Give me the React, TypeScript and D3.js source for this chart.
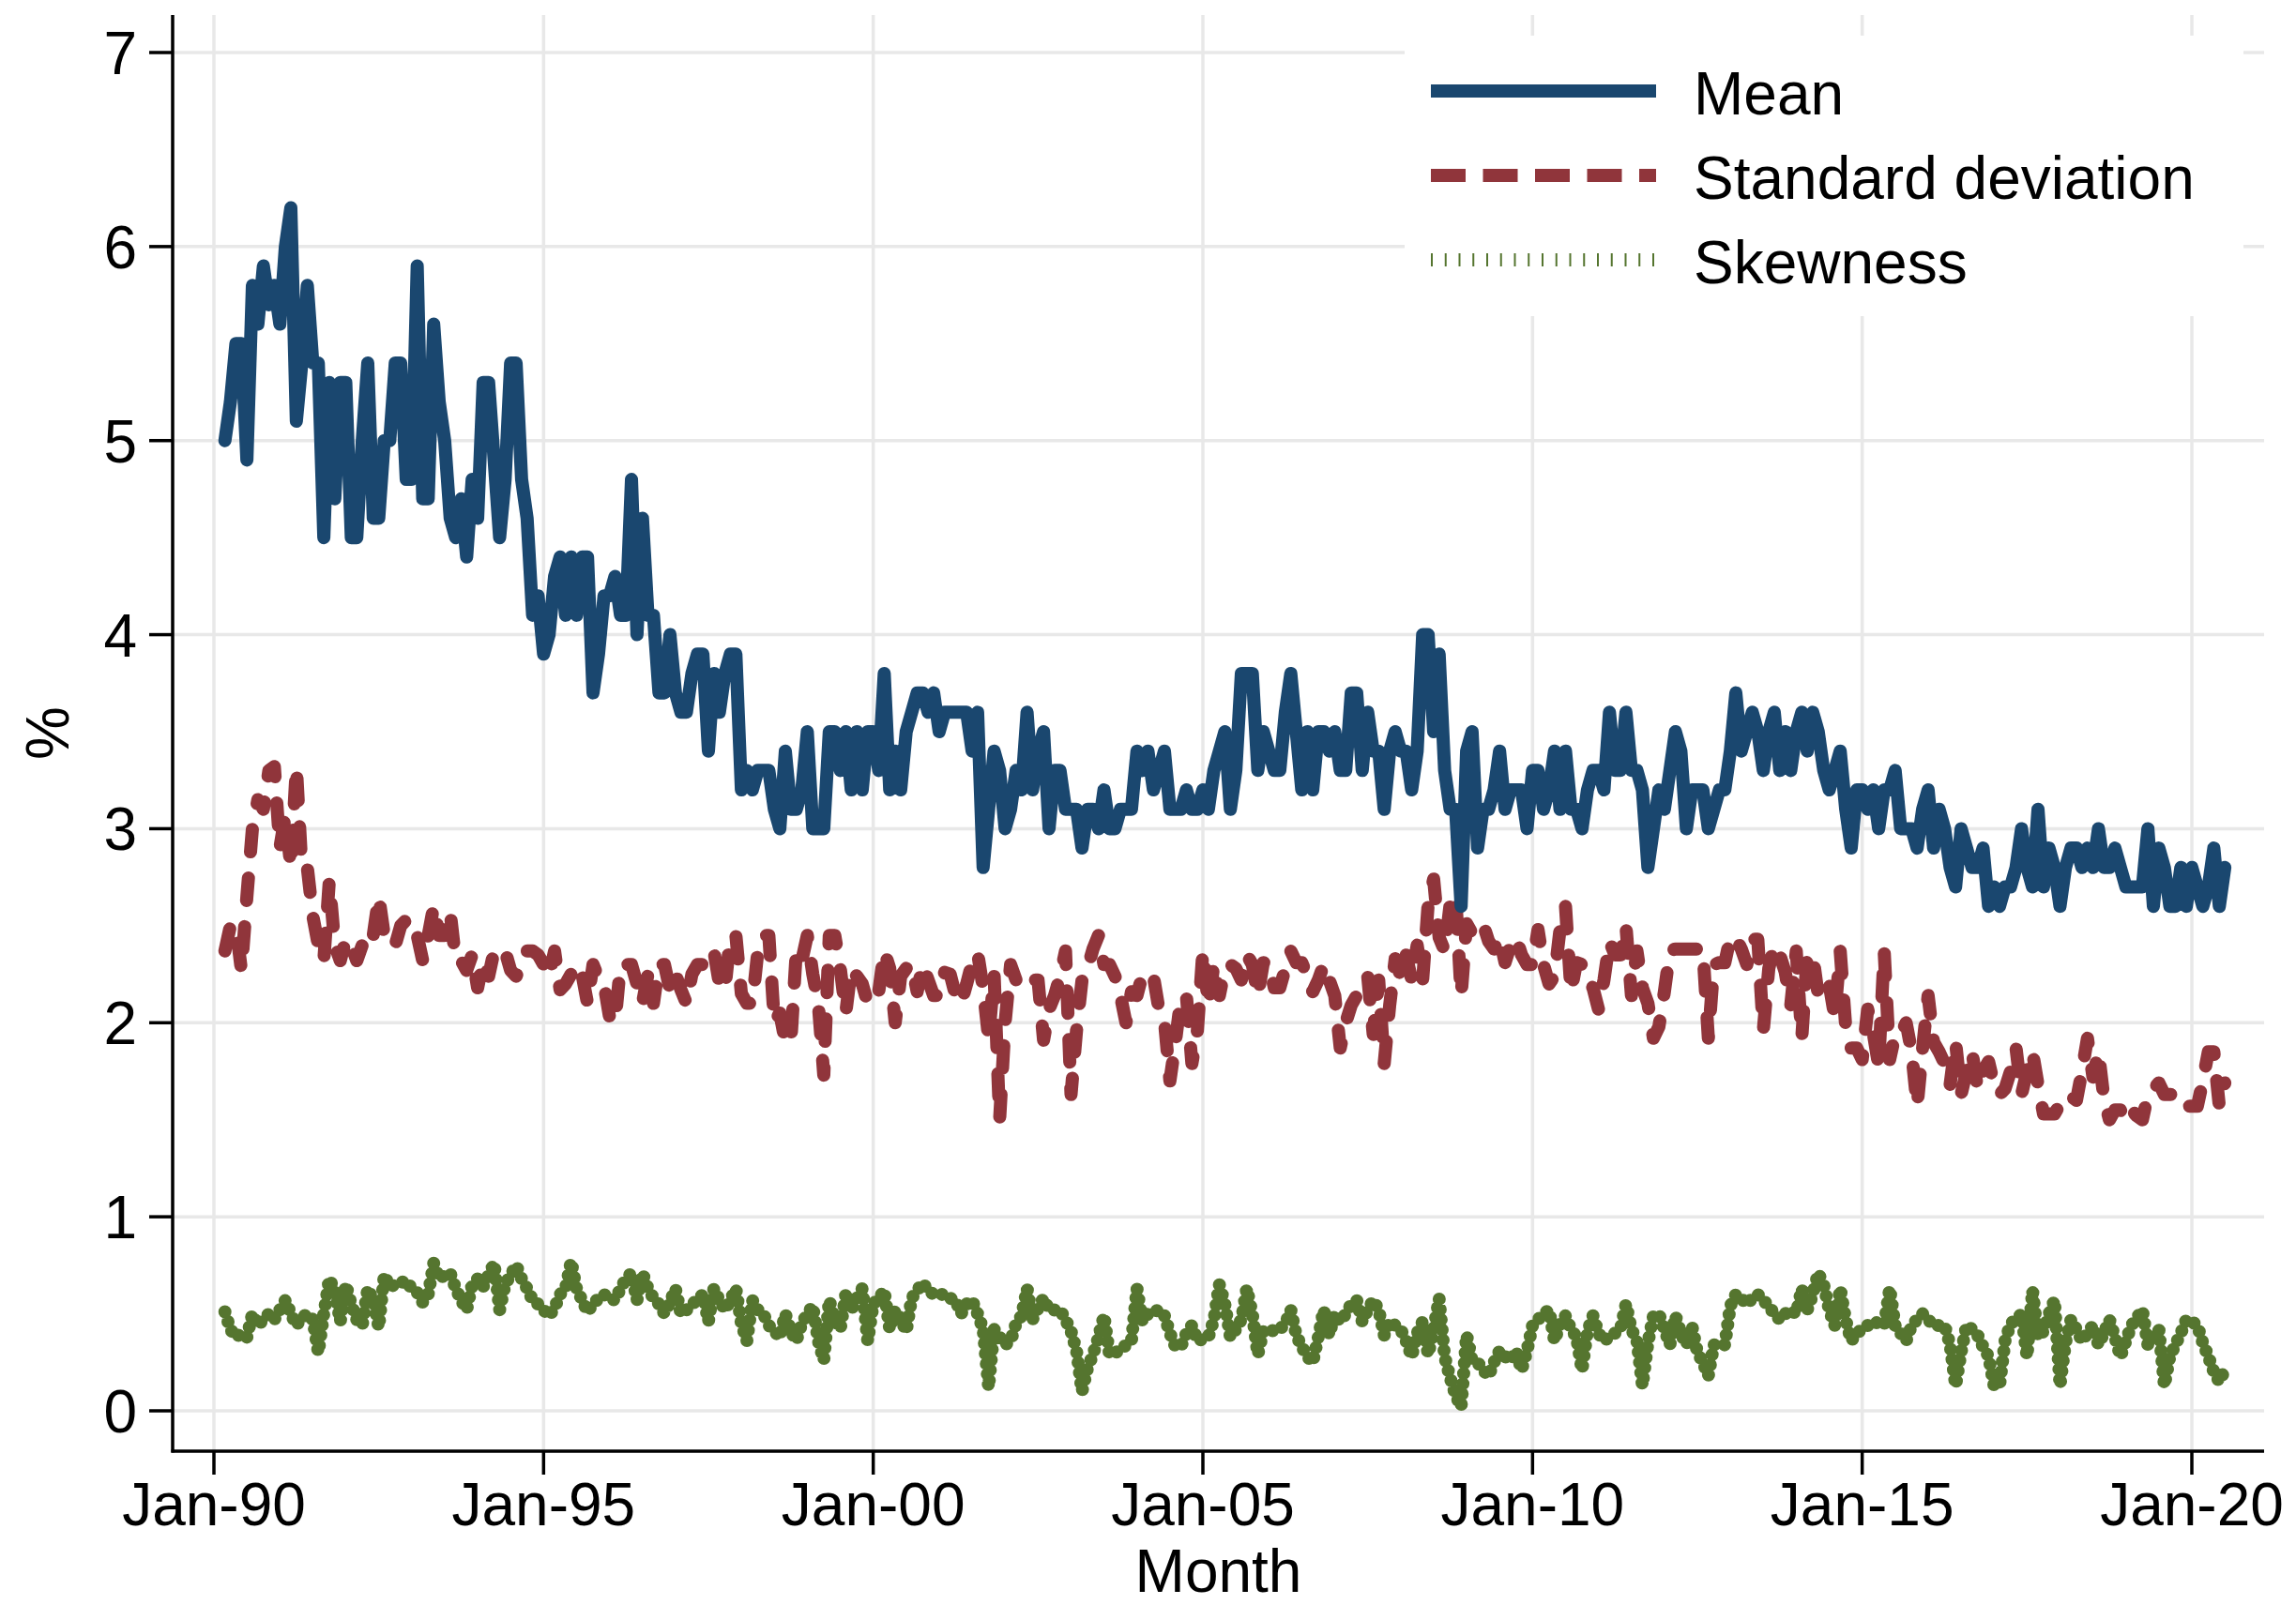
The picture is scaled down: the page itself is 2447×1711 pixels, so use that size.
import React from 'react';
import * as d3 from 'd3';

// monthly series, March 1990 .. July 2020
const firstMonth = 2; // months after Jan-1990

const meanValues = [
  5.0, 5.2, 5.5, 5.5, 4.9, 5.8, 5.6, 5.9, 5.7, 5.8,
  5.6, 6.0, 6.2, 5.1, 5.4, 5.8, 5.4, 5.4, 4.5, 5.3, 4.7, 5.3,
  5.3, 4.5, 4.5, 5.0, 5.4, 4.6, 4.6, 5.0, 5.0, 5.4, 5.4, 4.8,
  4.8, 5.9, 4.7, 4.7, 5.6, 5.2, 5.0, 4.6, 4.5, 4.7, 4.4, 4.8,
  4.6, 5.3, 5.3, 4.9, 4.5, 4.8, 5.4, 5.4, 4.8, 4.6, 4.1, 4.2,
  3.9, 4.0, 4.3, 4.4, 4.1, 4.4, 4.1, 4.4, 4.4, 3.7, 3.9, 4.2,
  4.2, 4.3, 4.1, 4.1, 4.8, 4.0, 4.6, 4.1, 4.1, 3.7, 3.7, 4.0,
  3.7, 3.6, 3.6, 3.8, 3.9, 3.9, 3.4, 3.8, 3.6, 3.8, 3.9, 3.9,
  3.2, 3.3, 3.2, 3.3, 3.3, 3.3, 3.1, 3.0, 3.4, 3.1, 3.1, 3.2,
  3.5, 3.0, 3.0, 3.0, 3.5, 3.5, 3.3, 3.5, 3.2, 3.5, 3.2, 3.5,
  3.5, 3.3, 3.8, 3.2, 3.4, 3.2, 3.5, 3.6, 3.7, 3.7, 3.6, 3.7,
  3.5, 3.6, 3.6, 3.6, 3.6, 3.6, 3.4, 3.6, 2.8, 3.1, 3.4, 3.3,
  3.0, 3.1, 3.3, 3.2, 3.6, 3.2, 3.4, 3.5, 3.0, 3.3, 3.3, 3.1,
  3.1, 3.1, 2.9, 3.1, 3.1, 3.0, 3.2, 3.0, 3.0, 3.1, 3.1, 3.1,
  3.4, 3.3, 3.4, 3.2, 3.3, 3.4, 3.1, 3.1, 3.1, 3.2, 3.1, 3.1,
  3.2, 3.1, 3.3, 3.4, 3.5, 3.1, 3.3, 3.8, 3.8, 3.8, 3.3, 3.5,
  3.4, 3.3, 3.3, 3.6, 3.8, 3.5, 3.2, 3.5, 3.2, 3.5, 3.5, 3.4,
  3.5, 3.3, 3.3, 3.7, 3.7, 3.3, 3.6, 3.4, 3.4, 3.1, 3.4, 3.5,
  3.4, 3.4, 3.2, 3.4, 4.0, 4.0, 3.5, 3.9, 3.3, 3.1, 3.1, 2.6,
  3.4, 3.5, 2.9, 3.1, 3.1, 3.2, 3.4, 3.1, 3.2, 3.2, 3.2, 3.0,
  3.3, 3.3, 3.1, 3.2, 3.4, 3.1, 3.4, 3.1, 3.1, 3.0, 3.2, 3.3,
  3.3, 3.2, 3.6, 3.3, 3.3, 3.6, 3.3, 3.3, 3.2, 2.8, 3.0, 3.2,
  3.1, 3.3, 3.5, 3.4, 3.0, 3.2, 3.2, 3.2, 3.0, 3.1, 3.2, 3.2,
  3.4, 3.7, 3.4, 3.5, 3.6, 3.5, 3.3, 3.5, 3.6, 3.3, 3.5, 3.3,
  3.5, 3.6, 3.4, 3.6, 3.5, 3.3, 3.2, 3.3, 3.4, 3.1, 2.9, 3.2,
  3.2, 3.1, 3.2, 3.0, 3.2, 3.2, 3.3, 3.0, 3.0, 3.0, 2.9, 3.1,
  3.2, 2.9, 3.1, 3.0, 2.8, 2.7, 3.0, 2.9, 2.8, 2.8, 2.9, 2.6,
  2.7, 2.6, 2.7, 2.7, 2.8, 3.0, 2.8, 2.7, 3.1, 2.7, 2.9, 2.8,
  2.6, 2.8, 2.9, 2.9, 2.8, 2.9, 2.8, 3.0, 2.8, 2.8, 2.9, 2.8,
  2.7, 2.7, 2.7, 2.7, 3.0, 2.6, 2.9, 2.8, 2.6, 2.6, 2.8, 2.6,
  2.8, 2.7, 2.6, 2.7, 2.9, 2.6, 2.8,
];

const sdValues = [
  2.37, 2.5, 2.5, 2.27, 2.65, 3.0, 3.15, 3.1, 3.3, 3.32,
  2.9, 3.07, 2.8, 3.32, 2.8, 2.8, 2.55, 2.4, 2.32, 2.73, 2.4, 2.32,
  2.43, 2.4, 2.32, 2.4, 2.48, 2.45, 2.65, 2.45, 2.45, 2.4, 2.5, 2.53,
  2.53, 2.45, 2.32, 2.45, 2.6, 2.45, 2.45, 2.57, 2.32, 2.32, 2.27, 2.35,
  2.18, 2.32, 2.24, 2.37, 2.37, 2.37, 2.27, 2.24, 2.3, 2.37, 2.37, 2.35,
  2.3, 2.24, 2.37, 2.17, 2.2, 2.25, 2.3, 2.25, 2.1, 2.3, 2.23, 2.2,
  2.03, 2.0, 2.3, 2.3, 2.3, 2.2, 2.1, 2.25, 2.1, 2.3, 2.3, 2.17,
  2.25, 2.17, 2.1, 2.25, 2.3, 2.3, 2.37, 2.37, 2.2, 2.17, 2.45, 2.45,
  2.15, 2.1, 2.1, 2.37, 2.45, 2.45, 2.0, 2.05, 1.9, 1.9, 2.37, 2.32,
  2.45, 2.25, 2.1, 1.73, 2.45, 2.45, 2.28, 2.05, 2.28, 2.24, 2.2, 2.1,
  2.15, 2.16, 2.37, 2.28, 2.0, 2.24, 2.28, 2.3, 2.16, 2.3, 2.22, 2.14,
  2.14, 2.26, 2.25, 2.14, 2.1, 2.2, 2.31, 2.36, 2.18, 1.92, 2.25, 1.5,
  2.0, 2.3, 2.22, 2.18, 2.2, 2.22, 2.22, 1.91, 2.07, 2.14, 2.24, 2.37,
  1.63, 1.96, 2.22, 2.28, 2.38, 2.45, 2.3, 2.3, 2.24, 2.14, 2.0, 2.16,
  2.14, 2.25, 2.25, 2.24, 2.07, 2.01, 1.7, 1.9, 2.13, 2.14, 1.79, 1.96,
  2.37, 2.09, 2.3, 2.14, 2.28, 2.3, 2.28, 2.22, 2.35, 2.3, 2.14, 2.31,
  2.31, 2.18, 2.18, 2.28, 2.37, 2.31, 2.31, 2.24, 2.16, 2.22, 2.3, 2.22,
  2.14, 1.87, 2.0, 2.09, 2.14, 2.22, 2.24, 1.94, 2.22, 1.79, 2.09, 2.33,
  2.24, 2.35, 2.22, 2.4, 2.22, 2.61, 2.74, 2.44, 2.37, 2.61, 2.66, 2.14,
  2.51, 2.46, 2.5, 2.51, 2.42, 2.38, 2.44, 2.31, 2.4, 2.44, 2.35, 2.3,
  2.3, 2.48, 2.3, 2.2, 2.24, 2.48, 2.6, 2.16, 2.31, 2.3, 2.22, 2.18,
  2.07, 2.22, 2.42, 2.35, 2.35, 2.5, 2.14, 2.37, 2.18, 2.1, 1.92, 1.98,
  2.16, 2.37, 2.38, 2.38, 2.38, 2.38, 2.38, 2.38, 1.92, 2.3, 2.31, 2.31,
  2.44, 2.44, 2.38, 2.3, 2.43, 2.43, 1.96, 2.28, 2.4, 2.35, 2.26, 2.09,
  2.37, 1.92, 2.35, 2.35, 2.14, 2.2, 2.2, 2.03, 2.37, 1.98, 1.87, 1.87,
  1.81, 2.07, 1.95, 1.78, 2.37, 1.81, 1.94, 1.94, 2.0, 1.85, 1.57, 1.87,
  2.14, 1.9, 1.85, 1.79, 1.68, 1.9, 1.63, 1.75, 1.85, 1.66, 1.75, 1.8,
  1.68, 1.63, 1.66, 1.75, 1.87, 1.63, 1.75, 1.85, 1.68, 1.53, 1.53, 1.53,
  1.58, 1.63, 1.62, 1.6, 1.75, 1.92, 1.72, 1.85, 1.61, 1.5, 1.55, 1.55,
  1.5, 1.55, 1.52, 1.5, 1.63, 1.66, 1.69, 1.63, 1.63, 1.63, 1.63, 1.57,
  1.57, 1.57, 1.7, 1.85, 1.85, 1.57, 1.69,
];

const skewValues = [
  0.51, 0.42, 0.38, 0.40, 0.38, 0.50, 0.44, 0.47, 0.50, 0.47,
  0.52, 0.57, 0.50, 0.44, 0.48, 0.50, 0.47, 0.30, 0.50, 0.68, 0.62, 0.46,
  0.65, 0.55, 0.47, 0.44, 0.63, 0.57, 0.43, 0.70, 0.64, 0.65, 0.66, 0.67,
  0.63, 0.61, 0.56, 0.60, 0.76, 0.68, 0.70, 0.71, 0.63, 0.57, 0.52, 0.65,
  0.68, 0.64, 0.70, 0.76, 0.52, 0.65, 0.70, 0.75, 0.68, 0.63, 0.57, 0.55,
  0.52, 0.49, 0.53, 0.60, 0.63, 0.77, 0.63, 0.57, 0.51, 0.55, 0.58, 0.60,
  0.58, 0.57, 0.63, 0.68, 0.71, 0.57, 0.71, 0.63, 0.58, 0.55, 0.50, 0.56,
  0.63, 0.50, 0.52, 0.55, 0.57, 0.60, 0.46, 0.63, 0.57, 0.52, 0.57, 0.63,
  0.45, 0.36, 0.57, 0.52, 0.50, 0.44, 0.41, 0.38, 0.50, 0.41, 0.36, 0.45,
  0.50, 0.54, 0.36, 0.26, 0.57, 0.47, 0.42, 0.60, 0.52, 0.58, 0.63, 0.36,
  0.55, 0.58, 0.62, 0.42, 0.52, 0.47, 0.41, 0.58, 0.62, 0.66, 0.62, 0.60,
  0.60, 0.60, 0.58, 0.57, 0.50, 0.55, 0.57, 0.50, 0.42, 0.12, 0.42, 0.38,
  0.34, 0.36, 0.45, 0.49, 0.63, 0.47, 0.53, 0.58, 0.52, 0.52, 0.52, 0.47,
  0.41, 0.31, 0.10, 0.22, 0.29, 0.38, 0.49, 0.29, 0.30, 0.31, 0.34, 0.36,
  0.63, 0.46, 0.50, 0.51, 0.52, 0.49, 0.40, 0.33, 0.33, 0.40, 0.44, 0.36,
  0.37, 0.38, 0.47, 0.65, 0.55, 0.38, 0.42, 0.47, 0.63, 0.50, 0.29, 0.41,
  0.42, 0.41, 0.42, 0.45, 0.52, 0.39, 0.33, 0.28, 0.25, 0.38, 0.52, 0.39,
  0.50, 0.46, 0.50, 0.55, 0.57, 0.46, 0.52, 0.57, 0.52, 0.39, 0.46, 0.44,
  0.42, 0.36, 0.28, 0.40, 0.46, 0.29, 0.42, 0.58, 0.28, 0.17, 0.08, 0.02,
  0.39, 0.26, 0.25, 0.21, 0.18, 0.25, 0.31, 0.28, 0.26, 0.31, 0.21, 0.31,
  0.44, 0.47, 0.50, 0.52, 0.36, 0.45, 0.49, 0.42, 0.38, 0.21, 0.41, 0.49,
  0.40, 0.36, 0.38, 0.40, 0.42, 0.55, 0.42, 0.36, 0.13, 0.35, 0.49, 0.50,
  0.42, 0.34, 0.49, 0.40, 0.34, 0.44, 0.30, 0.25, 0.18, 0.34, 0.34, 0.34,
  0.54, 0.60, 0.58, 0.55, 0.58, 0.60, 0.57, 0.54, 0.50, 0.47, 0.50, 0.52,
  0.50, 0.63, 0.52, 0.60, 0.71, 0.65, 0.52, 0.44, 0.63, 0.47, 0.36, 0.40,
  0.42, 0.44, 0.46, 0.45, 0.44, 0.63, 0.44, 0.40, 0.36, 0.44, 0.47, 0.50,
  0.47, 0.44, 0.44, 0.44, 0.34, 0.13, 0.30, 0.44, 0.42, 0.39, 0.33, 0.28,
  0.13, 0.13, 0.36, 0.45, 0.47, 0.50, 0.28, 0.62, 0.38, 0.41, 0.50, 0.57,
  0.13, 0.35, 0.47, 0.42, 0.36, 0.40, 0.44, 0.34, 0.40, 0.47, 0.38, 0.28,
  0.36, 0.44, 0.48, 0.52, 0.34, 0.38, 0.42, 0.13, 0.28, 0.34, 0.40, 0.47,
  0.46, 0.44, 0.35, 0.28, 0.20, 0.15, 0.21,
];

const tickMonths = [0, 60, 120, 180, 240, 300, 360];
const tickLabels = ['Jan-90', 'Jan-95', 'Jan-00', 'Jan-05', 'Jan-10', 'Jan-15', 'Jan-20'];
const yTicks = [0, 1, 2, 3, 4, 5, 6, 7];
const seriesNames = ['Mean', 'Standard deviation', 'Skewness'];

const W = 2447;
const H = 1711;
const plot = { left: 184, right: 2413, top: 16, bottom: 1547 };
const font = "'Liberation Sans', Arial, Helvetica, sans-serif";
const grid = '#e8e8e8';
const colors = ['#1a476f', '#90353b', '#55752f'];

export default function App() {
  const x = d3.scaleLinear().domain([0, 360]).range([228, 2336]);
  const y = d3.scaleLinear().domain([0, 7]).range([1504, 56]);

  const line = d3.line<number>()
    .x((_, i) => x(firstMonth + i))
    .y(d => y(d));

  const legendX = 1525;
  const legendW = 240;
  const rows = [97, 187, 277];

  return (
    <svg width={W} height={H} style={{ position: 'absolute', left: 0, top: 0, background: '#fff' }}
      fontFamily={font}>
      <rect width={W} height={H} fill="#fff" />

      {yTicks.map(t => (
        <line key={'gy' + t} x1={plot.left} x2={plot.right} y1={y(t)} y2={y(t)}
          stroke={grid} strokeWidth={3.5} />
      ))}
      {tickMonths.map(m => (
        <line key={'gx' + m} x1={x(m)} x2={x(m)} y1={plot.top} y2={plot.bottom}
          stroke={grid} strokeWidth={3.5} />
      ))}

      <rect x={1497} y={38} width={894} height={299} fill="#fff" />

      <path d={line(skewValues) || ''} fill="none" stroke={colors[2]} strokeWidth={14}
        strokeLinecap="round" strokeLinejoin="round" strokeDasharray="0 11" />
      <path d={line(sdValues) || ''} fill="none" stroke={colors[1]} strokeWidth={14}
        strokeLinecap="round" strokeLinejoin="round" strokeDasharray="24 28" />
      <path d={line(meanValues) || ''} fill="none" stroke={colors[0]} strokeWidth={14}
        strokeLinecap="round" strokeLinejoin="round" />

      <line x1={plot.left} x2={plot.left} y1={plot.top} y2={plot.bottom + 1.5}
        stroke="#000" strokeWidth={3.5} />
      <line x1={plot.left - 1.5} x2={plot.right} y1={plot.bottom} y2={plot.bottom}
        stroke="#000" strokeWidth={3.5} />

      {yTicks.map(t => (
        <g key={'ty' + t}>
          <line x1={plot.left - 25} x2={plot.left} y1={y(t)} y2={y(t)} stroke="#000" strokeWidth={3.5} />
          <text x={146} y={y(t) + 23} textAnchor="end" fontSize={64}>{t}</text>
        </g>
      ))}
      {tickMonths.map((m, i) => (
        <g key={'tx' + m}>
          <line x1={x(m)} x2={x(m)} y1={plot.bottom} y2={plot.bottom + 25} stroke="#000" strokeWidth={3.5} />
          <text x={x(m)} y={1626} textAnchor="middle" fontSize={64}>{tickLabels[i]}</text>
        </g>
      ))}

      <text x={(plot.left + plot.right) / 2} y={1697} textAnchor="middle" fontSize={64}>Month</text>
      <text transform={`translate(73,${(plot.top + plot.bottom) / 2}) rotate(-90)`} textAnchor="middle"
        fontSize={64}>%</text>

      <line x1={legendX} x2={legendX + legendW} y1={rows[0]} y2={rows[0]} stroke={colors[0]} strokeWidth={14} />
      <line x1={legendX} x2={legendX + legendW} y1={rows[1]} y2={rows[1]} stroke={colors[1]} strokeWidth={14}
        strokeDasharray="37 18.5" />
      <line x1={legendX} x2={legendX + legendW} y1={rows[2]} y2={rows[2]} stroke={colors[2]} strokeWidth={14}
        strokeDasharray="2 12.75" />
      {seriesNames.map((s, i) => (
        <text key={s} x={1805} y={rows[i] + 25} fontSize={64}>{s}</text>
      ))}
    </svg>
  );
}
